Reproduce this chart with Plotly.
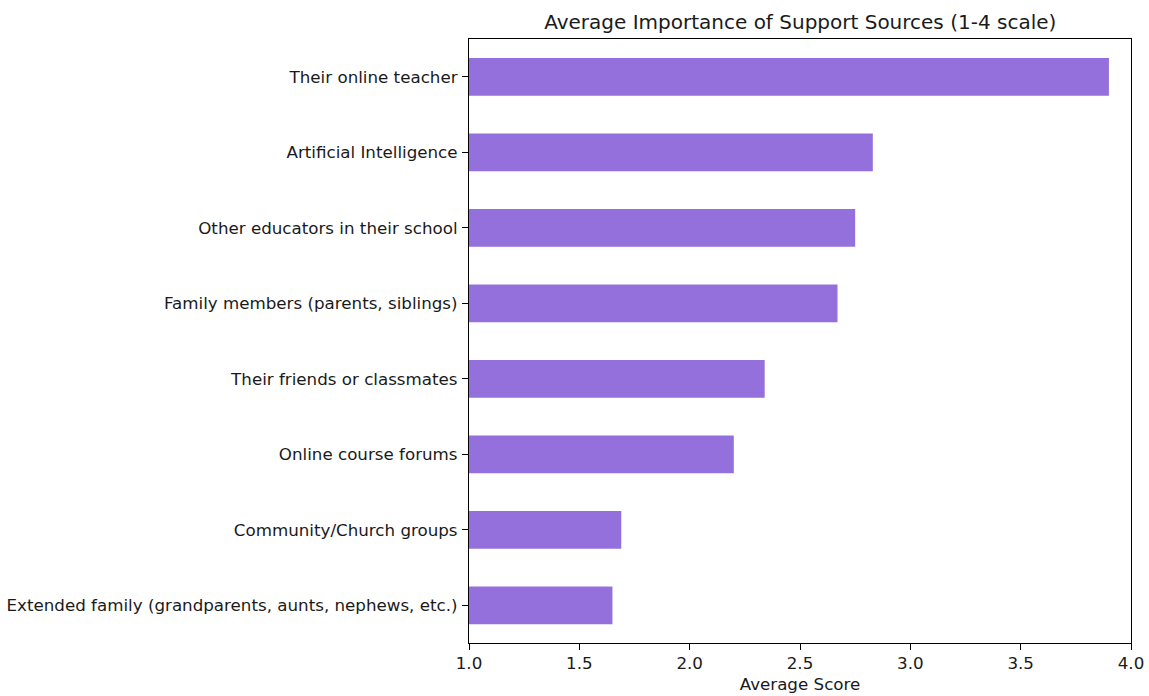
import plotly.graph_objects as go

categories = [
    "Extended family (grandparents, aunts, nephews, etc.)",
    "Community/Church groups",
    "Online course forums",
    "Their friends or classmates",
    "Family members (parents, siblings)",
    "Other educators in their school",
    "Artificial Intelligence",
    "Their online teacher",
]
scores = [1.65, 1.69, 2.20, 2.34, 2.67, 2.75, 2.83, 3.90]

x_ticks = [1.0, 1.5, 2.0, 2.5, 3.0, 3.5, 4.0]
x_ticklabels = ["1.0", "1.5", "2.0", "2.5", "3.0", "3.5", "4.0"]

FONT = "DejaVu Sans"
TICK_SIZE = 16.7
TITLE_SIZE = 20

fig = go.Figure(
    go.Bar(
        x=scores,
        y=categories,
        orientation="h",
        width=0.5,
        marker=dict(color="#9370DB", line=dict(width=0)),
        hoverinfo="x+y",
    )
)

axis_common = dict(
    showline=True,
    linecolor="black",
    linewidth=1.2,
    mirror=True,
    ticks="outside",
    ticklen=6,
    tickwidth=1.2,
    tickcolor="black",
    showgrid=False,
    zeroline=False,
    automargin=False,
    tickfont=dict(family=FONT, size=TICK_SIZE, color="#1a1a1a"),
)

L, R, T, B = 469, 17.5, 39, 53.3
W, H = 1149, 696

fig.update_layout(
    template="none",
    width=W,
    height=H,
    margin=dict(l=L, r=R, t=T, b=B, pad=0, autoexpand=False),
    paper_bgcolor="white",
    plot_bgcolor="white",
    font=dict(family=FONT, color="#1a1a1a"),
    title=dict(
        text="Average Importance of Support Sources (1-4 scale)",
        x=(L + (W - R)) / 2 / W,
        xanchor="center",
        y=1 - 21.5 / H,
        yanchor="middle",
        font=dict(family=FONT, size=TITLE_SIZE, color="#1a1a1a"),
    ),
    xaxis=dict(
        range=[1.0, 4.0],
        tickvals=x_ticks,
        ticktext=x_ticklabels,
        ticklabelstandoff=-1,
        title=dict(text="Average Score", font=dict(family=FONT, size=TICK_SIZE, color="#1a1a1a"), standoff=6),
        **axis_common,
    ),
    yaxis=dict(
        type="category",
        categoryorder="array",
        categoryarray=categories,
        range=[-0.5, 7.5],
        ticklabelstandoff=1,
        **axis_common,
    ),
    showlegend=False,
)

fig.write_html(
    "out.html",
    config={"displayModeBar": False},
    post_script="document.body.style.margin='0';document.body.style.padding='0';",
)
